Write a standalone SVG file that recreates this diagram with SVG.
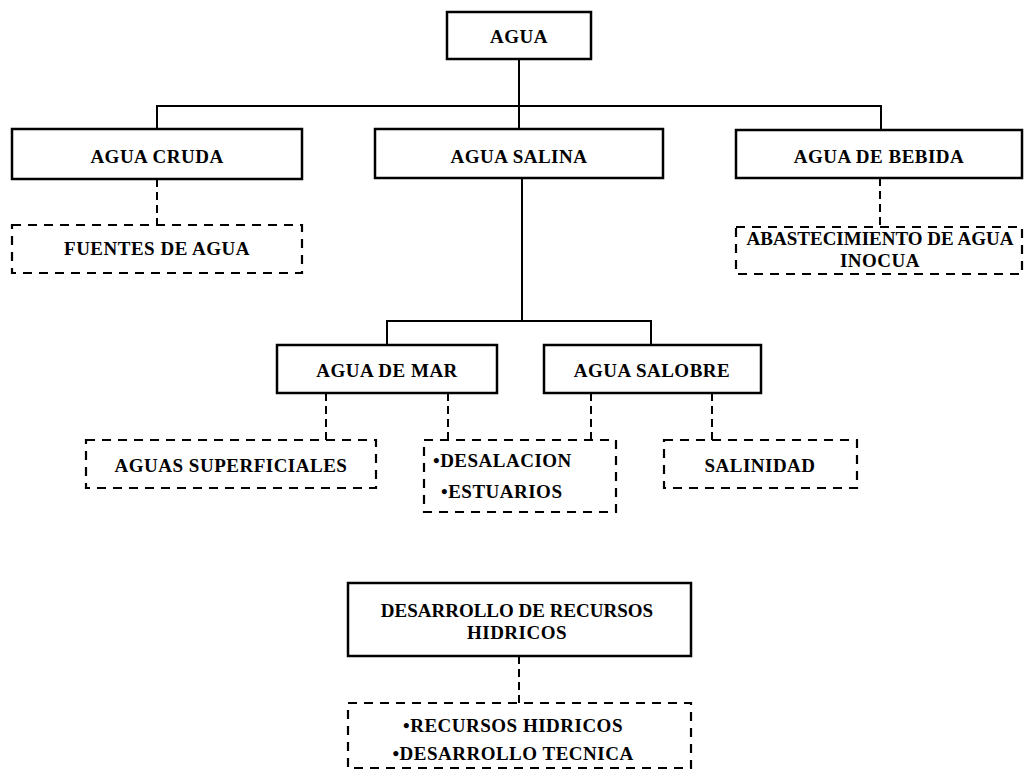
<svg xmlns="http://www.w3.org/2000/svg" width="1029" height="775" viewBox="0 0 1029 775">
<style>
.solid{fill:#fff;stroke:#000;stroke-width:2.5}
.dash{fill:#fff;stroke:#000;stroke-width:2.2;stroke-dasharray:9 7}
.ln{fill:none;stroke:#000;stroke-width:2}
.dl{fill:none;stroke:#000;stroke-width:2;stroke-dasharray:8 5}
text{font-family:"Liberation Serif","Times New Roman",serif;font-weight:bold;font-size:19px;fill:#000;text-anchor:middle;letter-spacing:0.5px}
text.l{text-anchor:start}
text.n{letter-spacing:0}
</style>
<rect width="1029" height="775" fill="#fff"/>
<g id="connectors">
<path class="ln" d="M519 59V129M157 129V106H881V130M522 178V321M387 345V321H651V345"/>
<path class="dl" d="M157 179V225M880 178V227M326 393V440M448 393V440M591 393V440M712 393V440M519 656V703"/>
</g>
<g id="agua"><rect class="solid" x="447" y="12" width="144" height="47"/><text x="519" y="43">AGUA</text></g>
<g id="agua-cruda"><rect class="solid" x="12" y="129" width="290" height="50"/><text x="157" y="163">AGUA CRUDA</text></g>
<g id="agua-salina"><rect class="solid" x="375" y="129" width="288" height="49"/><text x="519" y="163">AGUA SALINA</text></g>
<g id="agua-bebida"><rect class="solid" x="736" y="130" width="286" height="48"/><text x="879" y="163">AGUA DE BEBIDA</text></g>
<g id="fuentes"><rect class="dash" x="12" y="225" width="290" height="48"/><text x="157" y="255">FUENTES DE AGUA</text></g>
<g id="abastecimiento"><rect class="dash" x="736" y="227" width="286" height="47"/><text class="n" x="880" y="245">ABASTECIMIENTO DE AGUA</text><text x="880" y="267">INOCUA</text></g>
<g id="agua-mar"><rect class="solid" x="277" y="345" width="220" height="48"/><text x="387" y="377">AGUA DE MAR</text></g>
<g id="agua-salobre"><rect class="solid" x="544" y="345" width="217" height="48"/><text x="652" y="377">AGUA SALOBRE</text></g>
<g id="superficiales"><rect class="dash" x="86" y="440" width="290" height="48"/><text x="231" y="472">AGUAS SUPERFICIALES</text></g>
<g id="desalacion"><rect class="dash" x="424" y="440" width="192" height="72"/><text class="l" x="433" y="467">•DESALACION</text><text class="l" x="441" y="498">•ESTUARIOS</text></g>
<g id="salinidad"><rect class="dash" x="664" y="440" width="193" height="48"/><text x="760" y="472">SALINIDAD</text></g>
<g id="desarrollo"><rect class="solid" x="348" y="583" width="343" height="73"/><text class="n" x="517" y="617">DESARROLLO DE RECURSOS</text><text x="517" y="639">HIDRICOS</text></g>
<g id="recursos"><rect class="dash" x="348" y="703" width="343" height="65"/><text x="513" y="732">•RECURSOS HIDRICOS</text><text x="513" y="760">•DESARROLLO TECNICA</text></g>
</svg>
